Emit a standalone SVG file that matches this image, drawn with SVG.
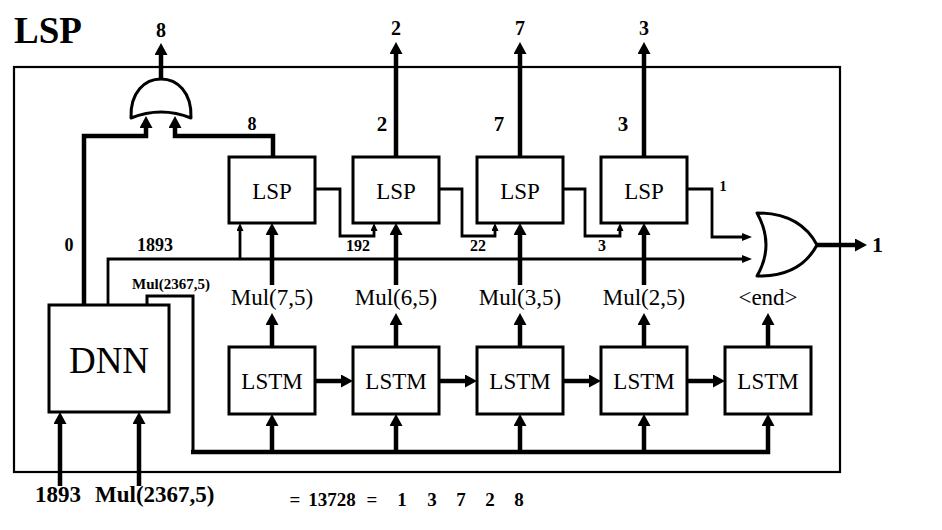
<svg xmlns="http://www.w3.org/2000/svg" width="942" height="530" viewBox="0 0 942 530">
<style>
.box{fill:#fff;stroke:#000;stroke-width:3}
.gate{fill:#fff;stroke:#000;stroke-width:3;stroke-linejoin:round}
.frame{fill:none;stroke:#000;stroke-width:2.2}
.thick{fill:none;stroke:#000;stroke-width:4.5;stroke-linejoin:miter}
.thin{fill:none;stroke:#000;stroke-width:2.8;stroke-linejoin:miter}
text{font-family:'Liberation Serif','Times New Roman',Times,'DejaVu Serif',serif;fill:#000}
.lbl{font-size:23px;text-anchor:middle}
.b{font-weight:bold}
.m{text-anchor:middle}
</style>
<defs>
<marker id="ah" markerUnits="userSpaceOnUse" viewBox="0 0 12 13" markerWidth="12" markerHeight="13" refX="1" refY="6.5" orient="auto"><path d="M0,0 L12,6.5 L0,13 Z" fill="#000"/></marker>
<marker id="am" markerUnits="userSpaceOnUse" viewBox="0 0 10 8" markerWidth="10" markerHeight="8" refX="1" refY="4" orient="auto"><path d="M0,0 L10,4 L0,8 Z" fill="#000"/></marker>
<marker id="as" markerUnits="userSpaceOnUse" viewBox="0 0 8 7" markerWidth="8" markerHeight="7" refX="1" refY="3.5" orient="auto"><path d="M0,0 L8,3.5 L0,7 Z" fill="#000"/></marker>
</defs>
<rect width="942" height="530" fill="#fff"/>
<text x="14" y="43" class="b" font-family="Liberation Serif, serif" style="font-size:37px">LSP</text>
<rect id="frame" class="frame" x="14" y="67" width="826" height="405"/>

<g id="connectors">
<path class="thick" d="M161,80 V54" marker-end="url(#ah)"/>
<path class="thick" d="M396,157 V53" marker-end="url(#ah)"/>
<path class="thick" d="M520,157 V53" marker-end="url(#ah)"/>
<path class="thick" d="M644,157 V53" marker-end="url(#ah)"/>
<path class="thick" d="M84,305 V136 H146 V127" marker-end="url(#ah)"/>
<path class="thick" d="M273,157 V136 H175 V127" marker-end="url(#ah)"/>
<path class="thin" d="M108,305 V259 H743" marker-end="url(#am)"/>
<path class="thin" d="M240,259 V230" marker-end="url(#as)"/>
<path class="thin" d="M315,189 H340 V236 H374 V230" marker-end="url(#as)"/>
<path class="thin" d="M439,189 H462 V236 H495 V230" marker-end="url(#as)"/>
<path class="thin" d="M563,189 H585 V236 H620 V230" marker-end="url(#as)"/>
<path class="thin" d="M687,189 H712 V237 H743" marker-end="url(#am)"/>
<path class="thick" d="M272,285 V234" marker-end="url(#ah)"/>
<path class="thick" d="M396,285 V234" marker-end="url(#ah)"/>
<path class="thick" d="M520,285 V234" marker-end="url(#ah)"/>
<path class="thick" d="M644,285 V234" marker-end="url(#ah)"/>
<path class="thick" d="M272,347 V324" marker-end="url(#ah)"/>
<path class="thick" d="M396,347 V324" marker-end="url(#ah)"/>
<path class="thick" d="M520,347 V324" marker-end="url(#ah)"/>
<path class="thick" d="M644,347 V324" marker-end="url(#ah)"/>
<path class="thick" d="M768,347 V324" marker-end="url(#ah)"/>
<path class="thick" d="M315,381 H342" marker-end="url(#ah)"/>
<path class="thick" d="M439,381 H466" marker-end="url(#ah)"/>
<path class="thick" d="M563,381 H590" marker-end="url(#ah)"/>
<path class="thick" d="M687,381 H714" marker-end="url(#ah)"/>
<path class="thin" d="M147,305 V296 H193 V452" style="stroke-width:3;stroke-linecap:square"/>
<path class="thick" d="M191,452 H768 V425" marker-end="url(#ah)"/>
<path class="thick" d="M272,452 V425" marker-end="url(#ah)"/>
<path class="thick" d="M396,452 V425" marker-end="url(#ah)"/>
<path class="thick" d="M520,452 V425" marker-end="url(#ah)"/>
<path class="thick" d="M644,452 V425" marker-end="url(#ah)"/>
<path class="thick" d="M60,486 V423" marker-end="url(#ah)"/>
<path class="thick" d="M139,486 V423" marker-end="url(#ah)"/>
<path class="thick" d="M816,245 H856" marker-end="url(#ah)"/>
</g>

<g id="gate-top"><path class="gate" d="M131,118 C130,92 145,79 161,79 C177,79 192,92 191,118 Q161,106 131,118 Z"/></g>
<g id="gate-or"><path class="gate" d="M757,213 Q800,213 817,245 Q800,277 757,276 Q775,245 757,213 Z"/></g>

<g id="lsp1"><rect class="box" x="229" y="157" width="86" height="66"/><text class="lbl" x="272" y="199">LSP</text></g>
<g id="lsp2"><rect class="box" x="353" y="157" width="86" height="66"/><text class="lbl" x="396" y="199">LSP</text></g>
<g id="lsp3"><rect class="box" x="477" y="157" width="86" height="66"/><text class="lbl" x="520" y="199">LSP</text></g>
<g id="lsp4"><rect class="box" x="601" y="157" width="86" height="66"/><text class="lbl" x="644" y="199">LSP</text></g>

<g id="lstm1"><rect class="box" x="229" y="347" width="86" height="67"/><text class="lbl" x="272" y="389">LSTM</text></g>
<g id="lstm2"><rect class="box" x="353" y="347" width="86" height="67"/><text class="lbl" x="396" y="389">LSTM</text></g>
<g id="lstm3"><rect class="box" x="477" y="347" width="86" height="67"/><text class="lbl" x="520" y="389">LSTM</text></g>
<g id="lstm4"><rect class="box" x="601" y="347" width="86" height="67"/><text class="lbl" x="644" y="389">LSTM</text></g>
<g id="lstm5"><rect class="box" x="725" y="347" width="86" height="67"/><text class="lbl" x="768" y="389">LSTM</text></g>

<g id="dnn"><rect class="box" x="49" y="305" width="120" height="107"/><text class="m" x="109" y="373" style="font-size:37px">DNN</text></g>

<g id="mul-labels">
<text class="lbl" x="272" y="305">Mul(7,5)</text>
<text class="lbl" x="396" y="305">Mul(6,5)</text>
<text class="lbl" x="520" y="305">Mul(3,5)</text>
<text class="lbl" x="644" y="305">Mul(2,5)</text>
<text class="lbl" x="768" y="305">&lt;end&gt;</text>
</g>

<g id="labels">
<text class="m b" x="161" y="37" style="font-size:20px">8</text>
<text class="m b" x="396" y="35" style="font-size:20px">2</text>
<text class="m b" x="520" y="35" style="font-size:20px">7</text>
<text class="m b" x="644" y="35" style="font-size:20px">3</text>
<text class="m b" x="252" y="130" style="font-size:18px">8</text>
<text class="m b" x="382" y="131" style="font-size:21px">2</text>
<text class="m b" x="499" y="131" style="font-size:21px">7</text>
<text class="m b" x="623" y="131" style="font-size:21px">3</text>
<text class="m b" x="69" y="251" style="font-size:18px">0</text>
<text class="b" x="137" y="251" style="font-size:18px">1893</text>
<text class="b" x="132" y="289" style="font-size:15px">Mul(2367,5)</text>
<text class="m b" x="358" y="251" style="font-size:16px">192</text>
<text class="m b" x="478" y="251" style="font-size:16px">22</text>
<text class="m b" x="602" y="251" style="font-size:16px">3</text>
<text class="m b" x="723" y="191" style="font-size:15px">1</text>
<text class="b" x="872" y="252" style="font-size:22px">1</text>
<text class="b" x="35" y="502" style="font-size:23px">1893</text>
<text class="b" x="95" y="502" style="font-size:23px">Mul(2367,5)</text>
<text class="m b" y="506" style="font-size:19px"><tspan x="295">=</tspan><tspan x="332">13728</tspan><tspan x="372">=</tspan><tspan x="402">1</tspan><tspan x="432">3</tspan><tspan x="461">7</tspan><tspan x="490">2</tspan><tspan x="519">8</tspan></text>
</g>
</svg>
